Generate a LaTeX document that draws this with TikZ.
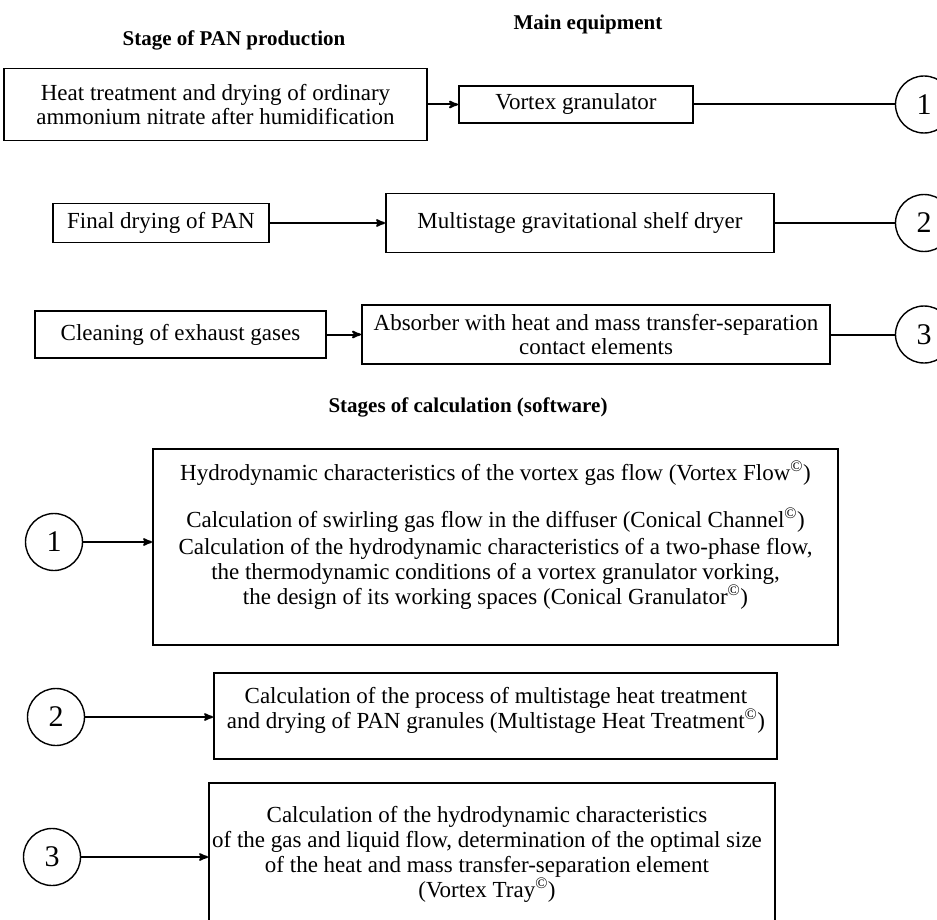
\documentclass[tikz,border=0pt]{standalone}
\usepackage{fontspec}
\setmainfont{Liberation Serif}
\usetikzlibrary{arrows}

\tikzset{
  stagebox/.style={draw, line width=1.9pt, align=center, inner sep=0pt},
  numcirc/.style={draw, circle, line width=1.4pt, minimum size=57pt, inner sep=0pt,
    font=\fontsize{30}{30}\selectfont},
  link/.style={line width=2pt},
  feed/.style={line width=2pt, -stealth'},
  heading/.style={font=\bfseries\fontsize{21}{24}\selectfont},
  calctext/.style={align=center, font=\fontsize{23}{25}\selectfont},
}
\newcommand{\copr}{\textsuperscript{\textcopyright}}

\begin{document}
\begin{tikzpicture}[x=1pt, y=-1pt, font=\fontsize{23}{24}\selectfont]
        \useasboundingbox (0,0) rectangle (937,920);

        % headings
        \node[heading] (hstage) at (234,40) {Stage of PAN production};
        \node[heading] (hequip) at (588,24) {Main equipment};
        \node[heading] (hcalc) at (468,407) {Stages of calculation (software)};

        % stages and equipment
        \node[stagebox, minimum width=423pt, minimum height=72pt] (heat) at (215.5,104.5)
            {Heat treatment and drying of ordinary\\ammonium nitrate after humidification};
        \node[stagebox, minimum width=234pt, minimum height=37pt] (vortex) at (576,104.5)
            {Vortex granulator};
        \node[numcirc] (rone) at (924,104.5) {1};

        \node[stagebox, minimum width=216pt, minimum height=39pt] (finaldry) at (161,223)
            {Final drying of PAN};
        \node[stagebox, minimum width=388pt, minimum height=59pt] (dryer) at (580,223)
            {Multistage gravitational shelf dryer};
        \node[numcirc] (rtwo) at (924,223) {2};

        \node[stagebox, minimum width=291pt, minimum height=47pt] (clean) at (180.5,334.5)
            {Cleaning of exhaust gases};
        \node[stagebox, minimum width=468pt, minimum height=59pt] (absorb) at (596,334.5)
            {Absorber with heat and mass transfer-separation\\contact elements};
        \node[numcirc] (rthree) at (924,334.5) {3};

        \draw[feed] (heat) -- (vortex);
        \draw[link] (vortex) -- (rone);
        \draw[feed] (finaldry) -- (dryer);
        \draw[link] (dryer) -- (rtwo);
        \draw[feed] (clean) -- (absorb);
        \draw[link] (absorb) -- (rthree);

        % calculation stages
        \node[numcirc] (lone) at (54,542) {1};
        \node[stagebox, minimum width=685pt, minimum height=196pt] (calcone) at (495.5,547) {};
        \node[calctext] (calconetxt) at (495.5,535)
            {Hydrodynamic characteristics of the vortex gas flow (Vortex Flow\copr)\\[22pt]
             Calculation of swirling gas flow in the diffuser (Conical Channel\copr)\\[2pt]
             Calculation of the hydrodynamic characteristics of a two-phase flow,\\
             the thermodynamic conditions of a vortex granulator vorking,\\
             the design of its working spaces (Conical Granulator\copr)};

        \node[numcirc] (ltwo) at (56,717) {2};
        \node[stagebox, minimum width=563pt, minimum height=86pt] (calctwo) at (495.5,716) {};
        \node[calctext] (calctwotxt) at (496,710)
            {Calculation of the process of multistage heat treatment\\
             and drying of PAN granules (Multistage Heat Treatment\copr)};

        \node[numcirc] (lthree) at (52,857) {3};
        \node[stagebox, minimum width=566pt, minimum height=142pt] (calcthree) at (492,854) {};
        \node[calctext] (calcthreetxt) at (487,854.5)
            {Calculation of the hydrodynamic characteristics\\
             of the gas and liquid flow, determination of the optimal size\\
             of the heat and mass transfer-separation element\\
             (Vortex Tray\copr)};

        \draw[feed] (lone) -- (lone -| calcone.west);
        \draw[feed] (ltwo) -- (ltwo -| calctwo.west);
        \draw[feed] (lthree) -- (lthree -| calcthree.west);
\end{tikzpicture}
\end{document}
